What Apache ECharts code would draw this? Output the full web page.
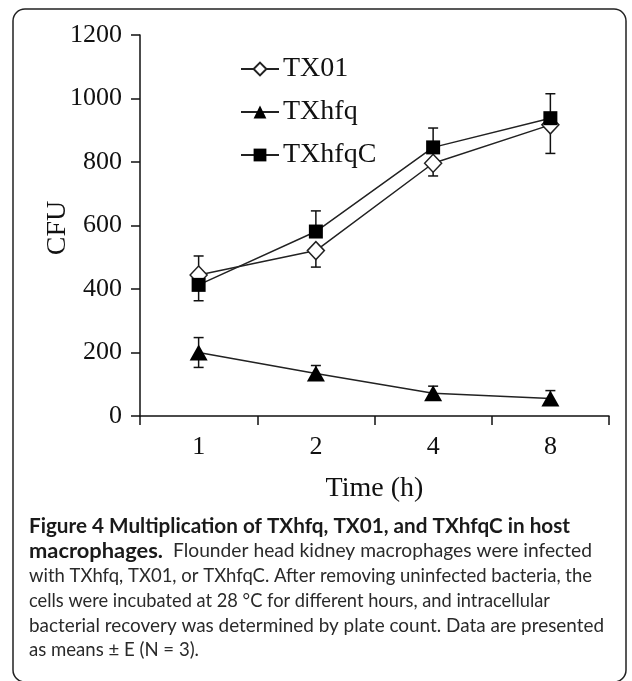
<!DOCTYPE html>
<html>
<head>
<meta charset="utf-8">
<script src="https://cdn.jsdelivr.net/npm/echarts@6/dist/echarts.min.js"></script>
<style>
html,body{margin:0;padding:0;background:#fff;}
#main{width:632px;height:681px;}
</style>
</head>
<body>
<div id="main"></div>
<script>
// ---- data ----
const categories = ['1', '2', '4', '8'];
const seriesNames = ['TX01', 'TXhfq', 'TXhfqC'];
const tx01 = [444, 521, 796, 917];
const tx01Err = [60, 52, 40, 90];
const txhfq = [200, 134, 72, 55];
const txhfqErr = [47, 25, 22, 25];
const txhfqC = [413, 581, 846, 938];
const txhfqCErr = [50, 65, 61, 77];
// which side(s) of each error bar are visible
const tx01ErrSide = ['up', 'down', 'down', 'down'];
const txhfqErrSide = ['both', 'up', 'up', 'up'];
const txhfqCErrSide = ['down', 'up', 'up', 'up'];
const yAxisTitle = 'CFU';
const xAxisTitle = 'Time (h)';
const captionLines = [
  [{b: 'Figure 4 Multiplication of TXhfq, TX01, and TXhfqC in host'}],
  [{b: 'macrophages.'}, {r: 'Flounder head kidney macrophages were infected'}],
  [{r: 'with TXhfq, TX01, or TXhfqC. After removing uninfected bacteria, the'}],
  [{r: 'cells were incubated at 28 \u00B0C for different hours, and intracellular'}],
  [{r: 'bacterial recovery was determined by plate count. Data are presented'}],
  [{r: 'as means \u00B1 E (N = 3).'}]
];

// ---- layout (not data) ----
const CAP_LEFT = 29;
const CAP_TOP = 526;
const CAP_STEP = 24.8;
// [start, end] of each caption segment, per line
const CAP_SPANS = [
  [[29, 570]],
  [[29, 163], [173, 592]],
  [[29, 592]],
  [[29, 550]],
  [[29, 604]],
  [[29, 199]]
];

const chart = echarts.init(document.getElementById('main'), null, {renderer: 'canvas'});
const SERIF = '"Liberation Serif", "Times New Roman", serif';
const SANS = 'Lato, "Open Sans", sans-serif';
const INK = '#111';

function errData(vals, errs, sides) {
  return vals.map((v, i) => {
    const s = sides[i];
    const lo = (s === 'up') ? v : v - errs[i];
    const hi = (s === 'down') ? v : v + errs[i];
    return [i, lo, hi, s];
  });
}

function errRender(params, api) {
  const x = api.value(0);
  const lo = api.coord([x, api.value(1)]);
  const hi = api.coord([x, api.value(2)]);
  const side = api.value(3);
  const cw = 5;
  const st = {stroke: INK, lineWidth: 1.5};
  const children = [{type: 'line', shape: {x1: lo[0], y1: lo[1], x2: hi[0], y2: hi[1]}, style: st}];
  if (side !== 'up') children.push({type: 'line', shape: {x1: lo[0] - cw, y1: lo[1], x2: lo[0] + cw, y2: lo[1]}, style: st});
  if (side !== 'down') children.push({type: 'line', shape: {x1: hi[0] - cw, y1: hi[1], x2: hi[0] + cw, y2: hi[1]}, style: st});
  return {type: 'group', children};
}

// caption layout: each segment is scaled horizontally to span its measured width
const BOLD_SIZE = 21, REG_SIZE = 20;
const mctx = document.createElement('canvas').getContext('2d');
function measure(text, bold, size) {
  mctx.font = (bold ? 'bold ' : '') + size + 'px ' + SANS;
  return mctx.measureText(text).width;
}
const captionGraphics = [];
captionLines.forEach((segs, i) => {
  const y = CAP_TOP + i * CAP_STEP;
  segs.forEach((s, k) => {
    const bold = s.b !== undefined;
    const text = bold ? s.b : s.r;
    const size = bold ? BOLD_SIZE : REG_SIZE;
    const w = measure(text, bold, size);
    const span = CAP_SPANS[i][k];
    const scale = (span[1] - span[0]) / w;
    captionGraphics.push({
      type: 'text', x: span[0], y: y, scaleX: scale, silent: true,
      style: {
        text: text, fontFamily: SANS, fontWeight: bold ? 'bold' : 'normal', fontSize: size,
        fill: bold ? '#1a1a1a' : '#2a2a2a', textVerticalAlign: 'middle', textAlign: 'left'
      }
    });
  });
});

const option = {
  backgroundColor: '#fff',
  animation: false,
  grid: {left: 140, top: 35, width: 469, height: 381, containLabel: false},
  legend: {
    data: seriesNames,
    orient: 'vertical',
    left: 235, top: 50,
    itemWidth: 38, itemHeight: 16, itemGap: 15,
    textStyle: {fontFamily: SERIF, fontSize: 28, color: INK, lineHeight: 28, padding: [0, 0, 0, -1]}
  },
  xAxis: {
    type: 'category', data: categories, boundaryGap: true,
    name: xAxisTitle, nameLocation: 'middle', nameGap: 59,
    nameTextStyle: {fontFamily: SERIF, fontSize: 28, color: INK},
    axisLine: {lineStyle: {color: INK, width: 1.5}},
    axisTick: {show: true, inside: false, length: 9, lineStyle: {color: INK, width: 1.5}},
    axisLabel: {fontFamily: SERIF, fontSize: 26, color: INK, margin: 18},
    splitLine: {show: false}
  },
  yAxis: {
    type: 'value', min: 0, max: 1200, interval: 200,
    axisLine: {show: true, lineStyle: {color: INK, width: 1.5}},
    axisTick: {show: true, length: 9, lineStyle: {color: INK, width: 1.5}},
    axisLabel: {fontFamily: SERIF, fontSize: 26, color: INK, margin: 18, formatter: v => String(v)},
    splitLine: {show: false}
  },
  series: [
    {type: 'custom', name: 'err-TX01', renderItem: errRender, data: errData(tx01, tx01Err, tx01ErrSide), z: 1, silent: true},
    {type: 'custom', name: 'err-TXhfq', renderItem: errRender, data: errData(txhfq, txhfqErr, txhfqErrSide), z: 1, silent: true},
    {type: 'custom', name: 'err-TXhfqC', renderItem: errRender, data: errData(txhfqC, txhfqCErr, txhfqCErrSide), z: 1, silent: true},
    {
      name: 'TX01', type: 'line', data: tx01, z: 3,
      symbol: 'diamond', symbolSize: [17, 18],
      lineStyle: {color: '#222', width: 1.5},
      itemStyle: {color: '#fff', borderColor: '#222', borderWidth: 1.5}
    },
    {
      name: 'TXhfq', type: 'line', data: txhfq, z: 3,
      symbol: 'triangle', symbolSize: [18, 16],
      lineStyle: {color: '#222', width: 1.5},
      itemStyle: {color: '#000', borderWidth: 0}
    },
    {
      name: 'TXhfqC', type: 'line', data: txhfqC, z: 3,
      symbol: 'rect', symbolSize: 14,
      lineStyle: {color: '#222', width: 1.5},
      itemStyle: {color: '#000', borderWidth: 0}
    }
  ],
  graphic: [
    {
      type: 'rect', x: 13, y: 9, z: -10, silent: true,
      shape: {width: 613, height: 673, r: 12},
      style: {fill: 'none', stroke: '#222', lineWidth: 1.5}
    },
    {
      type: 'text', x: 58, y: 228, rotation: Math.PI / 2, silent: true,
      style: {text: yAxisTitle, fontFamily: SERIF, fontSize: 28, fill: INK, textAlign: 'center', textVerticalAlign: 'middle'}
    }
  ].concat(captionGraphics)
};
chart.setOption(option);
</script>
</body>
</html>
